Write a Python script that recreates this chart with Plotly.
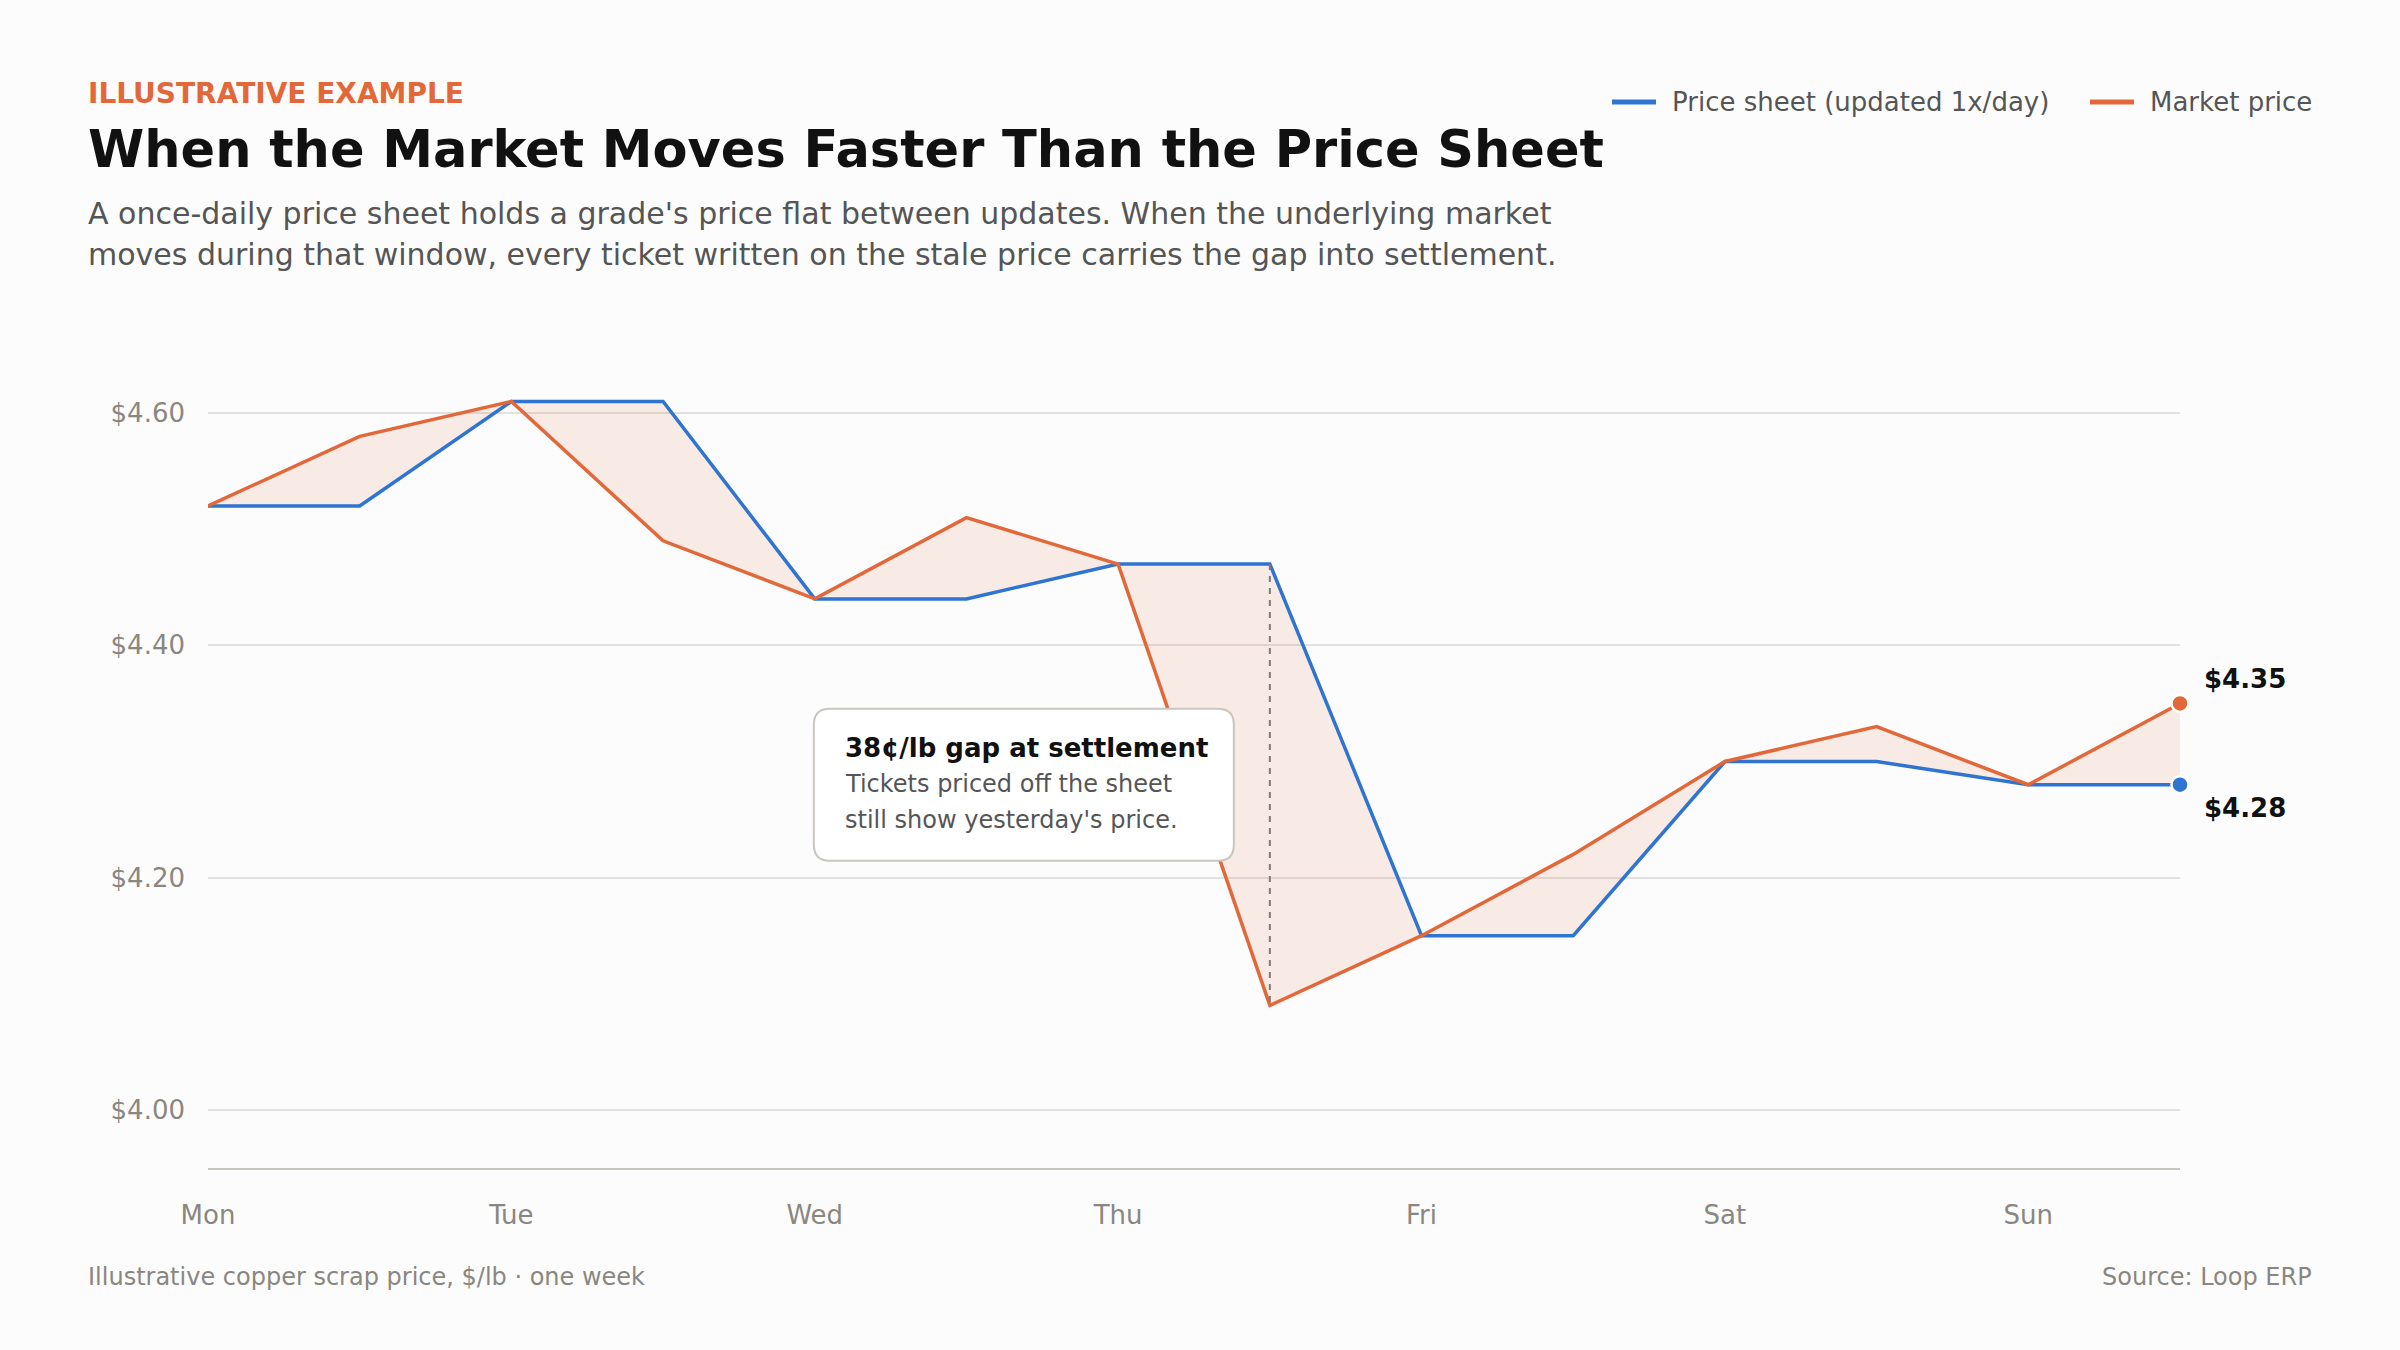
#!/usr/bin/env python3
from __future__ import annotations

import plotly.graph_objects as go

# --- data -----------------------------------------------------------------
DAY_LABELS = ["Mon", "Tue", "Wed", "Thu", "Fri", "Sat", "Sun"]
DAY_TICKS = [0, 1, 2, 3, 4, 5, 6]
# two readings per day (morning / afternoon)
X_POS = [0, 0.5, 1, 1.5, 2, 2.5, 3, 3.5, 4, 4.5, 5, 5.5, 6, 6.5]
SHEET_PRICE = [4.52, 4.52, 4.61, 4.61, 4.44, 4.44, 4.47, 4.47, 4.15, 4.15, 4.30, 4.30, 4.28, 4.28]
MARKET_PRICE = [4.52, 4.58, 4.61, 4.49, 4.44, 4.51, 4.47, 4.09, 4.15, 4.22, 4.30, 4.33, 4.28, 4.35]
Y_TICKS = [4.00, 4.20, 4.40, 4.60]
SERIES_NAMES = ["Price sheet (updated 1x/day)", "Market price"]

BLUE = "#2F74D0"
ORANGE = "#E2683A"
FILL = "rgba(226,104,58,0.12)"
INK = "#111111"
BODY = "#555555"
MUTED = "#8A8680"
BG = "#FCFCFC"
FONT = "DejaVu Sans"

# --- canvas geometry ------------------------------------------------------
W, H = 2400, 1350
M_L, M_R, M_T, M_B = 208, 220, 355, 182
PLOT_W = W - M_L - M_R
PLOT_H = H - M_T - M_B


def px_x(px: float) -> float:
    return (px - M_L) / PLOT_W


def px_y(py: float) -> float:
    return (M_T + PLOT_H - py) / PLOT_H


fig = go.Figure()

fig.add_trace(go.Scatter(
    x=X_POS, y=SHEET_PRICE, mode="lines", name=SERIES_NAMES[0],
    line=dict(color=BLUE, width=3.5), hoverinfo="skip", showlegend=False,
))
# shaded gap between sheet and market
fig.add_trace(go.Scatter(
    x=X_POS, y=MARKET_PRICE, mode="lines", fill="tonexty", fillcolor=FILL,
    line=dict(width=0), showlegend=False, hoverinfo="skip",
))
fig.add_trace(go.Scatter(
    x=X_POS, y=MARKET_PRICE, mode="lines", name=SERIES_NAMES[1],
    line=dict(color=ORANGE, width=3.5), hoverinfo="skip", showlegend=False,
))

# end-point dots and labels
for series, color, shift in [(MARKET_PRICE, ORANGE, 24), (SHEET_PRICE, BLUE, -23)]:
    fig.add_trace(go.Scatter(
        x=[X_POS[-1]], y=[series[-1]], mode="markers", showlegend=False, hoverinfo="skip",
        marker=dict(color=color, size=17, line=dict(color="white", width=2.5)), cliponaxis=False,
    ))
    fig.add_annotation(
        x=X_POS[-1], y=series[-1], xref="x", yref="y", text=f"<b>${series[-1]:.2f}</b>",
        showarrow=False, xanchor="left", yanchor="middle", xshift=22, yshift=shift,
        font=dict(family=FONT, size=26, color=INK),
    )

# biggest gap: dashed marker + callout
gaps = [abs(s - m) for s, m in zip(SHEET_PRICE, MARKET_PRICE)]
gi = gaps.index(max(gaps))
gx = X_POS[gi]
gmid = (SHEET_PRICE[gi] + MARKET_PRICE[gi]) / 2
fig.add_shape(
    type="line", x0=gx, x1=gx, y0=SHEET_PRICE[gi], y1=MARKET_PRICE[gi], xref="x", yref="y",
    line=dict(color="#7F7B76", width=2, dash="6px,6px"), layer="above",
)

bx0, bx1, by0, by1, r = -456, -36, -76, 76, 16
box_path = (
    f"M{bx0 + r},{by1} L{bx1 - r},{by1} Q{bx1},{by1} {bx1},{by1 - r} "
    f"L{bx1},{by0 + r} Q{bx1},{by0} {bx1 - r},{by0} "
    f"L{bx0 + r},{by0} Q{bx0},{by0} {bx0},{by0 + r} "
    f"L{bx0},{by1 - r} Q{bx0},{by1} {bx0 + r},{by1} Z"
)
fig.add_shape(
    type="path", path=box_path, xref="x", yref="y", xsizemode="pixel", ysizemode="pixel",
    xanchor=gx, yanchor=gmid, fillcolor="#FFFFFF", line=dict(color="#C9C6BF", width=2),
    layer="above",
)
callout = [
    (f"<b>{round(max(gaps) * 100)}¢/lb gap at settlement</b>", 26, INK, 37),
    ("Tickets priced off the sheet", 24, BODY, 1),
    ("still show yesterday's price.", 24, BODY, -35),
]
for text, size, color, dy in callout:
    fig.add_annotation(
        x=gx, y=gmid, xref="x", yref="y", text=text, showarrow=False,
        xanchor="left", yanchor="middle", xshift=bx0 + 29, yshift=dy,
        font=dict(family=FONT, size=size, color=color),
    )

# --- legend (drawn by hand to match sample length / spacing) ---------------
for (x0, x1, tx, anchor), name, color in zip(
    [(1612, 1656, 1670, "left"), (2090, 2134, 2314, "right")], SERIES_NAMES, [BLUE, ORANGE]
):
    fig.add_shape(
        type="line", xref="paper", yref="paper", x0=px_x(x0), x1=px_x(x1),
        y0=px_y(102), y1=px_y(102), line=dict(color=color, width=5),
    )
    fig.add_annotation(
        x=px_x(tx), y=px_y(102), xref="paper", yref="paper", text=name, showarrow=False,
        xanchor=anchor, yanchor="middle", font=dict(family=FONT, size=26, color=BODY),
    )

# --- header / footer text -------------------------------------------------
header = [
    ("<b>ILLUSTRATIVE EXAMPLE</b>", 28, ORANGE, 94),
    ("<b>When the Market Moves Faster Than the Price Sheet</b>", 51, INK, 149),
    ("A once-daily price sheet holds a grade's price flat between updates. When the underlying market",
     30, BODY, 214),
    ("moves during that window, every ticket written on the stale price carries the gap into settlement.",
     30, BODY, 255),
]
for text, size, color, ypx in header:
    fig.add_annotation(
        x=px_x(86), y=px_y(ypx), xref="paper", yref="paper", text=text, showarrow=False,
        xanchor="left", yanchor="middle", font=dict(family=FONT, size=size, color=color),
    )

fig.add_annotation(
    x=px_x(86), y=px_y(1277), xref="paper", yref="paper", showarrow=False,
    text="Illustrative copper scrap price, $/lb · one week",
    xanchor="left", yanchor="middle", font=dict(family=FONT, size=24, color=MUTED),
)
fig.add_annotation(
    x=px_x(2314), y=px_y(1277), xref="paper", yref="paper", showarrow=False,
    text="Source: Loop ERP",
    xanchor="right", yanchor="middle", font=dict(family=FONT, size=24, color=MUTED),
)

fig.update_layout(
    width=W, height=H,
    margin=dict(l=M_L, r=M_R, t=M_T, b=M_B),
    paper_bgcolor=BG, plot_bgcolor=BG,
    font=dict(family=FONT, size=26, color=BODY),
    showlegend=False,
    hovermode=False,
)
fig.update_xaxes(
    range=[0, 6.5], tickvals=DAY_TICKS, ticktext=DAY_LABELS, showgrid=False, zeroline=False,
    showline=True, linecolor="#C9C6C0", linewidth=2, ticks="", ticklabelstandoff=23,
    tickfont=dict(family=FONT, size=26, color=MUTED),
)
fig.update_yaxes(
    range=[3.95, 4.65], tickvals=Y_TICKS, ticktext=[f"${v:.2f}" for v in Y_TICKS],
    showgrid=True, gridcolor="#E3E1DD", gridwidth=2, zeroline=False, showline=False,
    ticks="", ticklabelstandoff=22, tickfont=dict(family=FONT, size=26, color=MUTED),
)

fig.write_html(
    "out.html",
    config={"displayModeBar": False},
    post_script="document.body.style.margin='0';",
)
